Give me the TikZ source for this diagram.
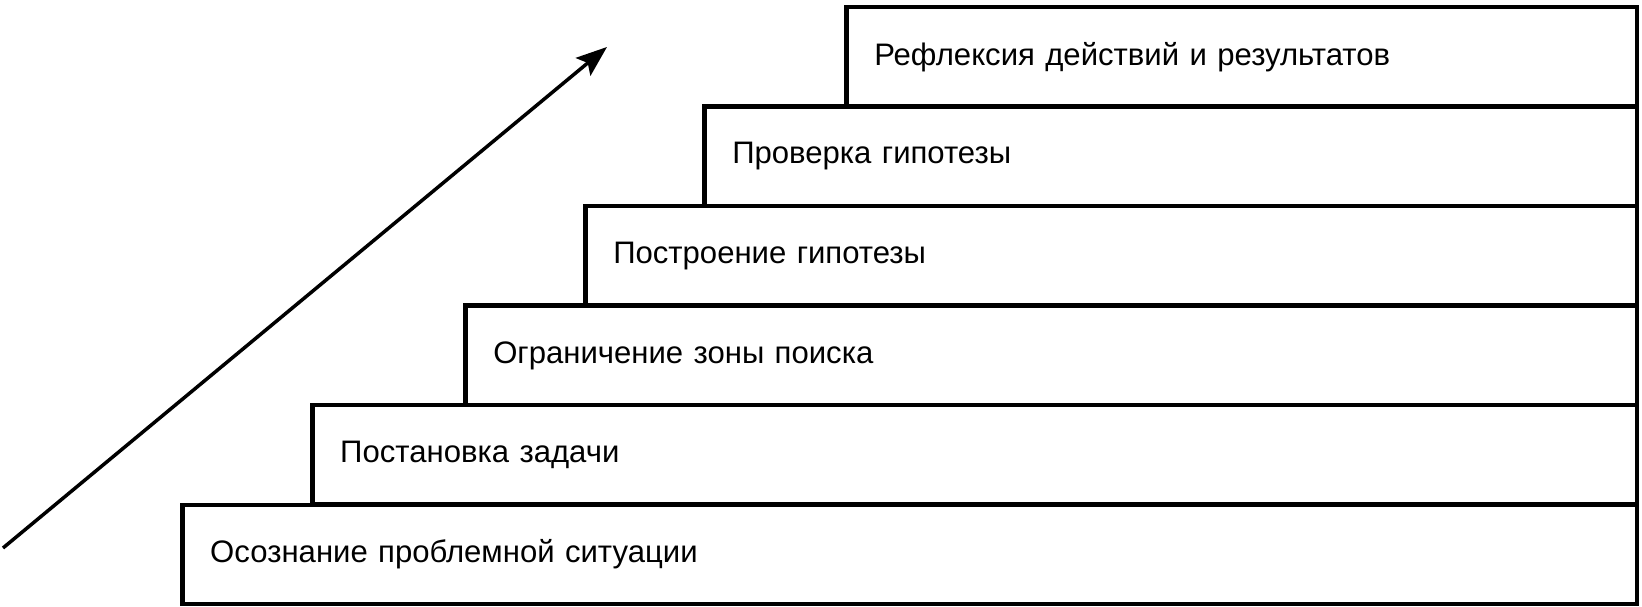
\documentclass[tikz,border=0pt]{standalone}
\usepackage{fontspec}
\setmainfont{Liberation Sans}
\usetikzlibrary{arrows.meta}
\begin{document}
\begin{tikzpicture}[x=0.02cm,y=-0.02cm,
  stepbox/.style={draw, line width=0.09cm, anchor=north west, inner xsep=0.56cm,
    minimum height=1.99cm, align=left, font=\fontsize{17.7}{20}\selectfont},
  uparrow/.style={line width=0.07cm, -{Stealth[length=0.62cm,width=0.46cm,inset=0.12cm]}}]
\useasboundingbox (0,0) rectangle (1642,607);
\node[stepbox, text width=29.1cm-1.12cm, minimum width=29.1cm] (s1) at (180,502.5) {Осознание проблемной ситуации};
\node[stepbox, text width=26.5cm-1.12cm, minimum width=26.5cm] (s2) at (310,403) {Постановка задачи};
\node[stepbox, text width=23.44cm-1.12cm, minimum width=23.44cm] (s3) at (463,303.5) {Ограничение зоны поиска};
\node[stepbox, text width=21.04cm-1.12cm, minimum width=21.04cm] (s4) at (583,204) {Построение гипотезы};
\node[stepbox, text width=18.66cm-1.12cm, minimum width=18.66cm] (s5) at (702,104.5) {Проверка гипотезы};
\node[stepbox, text width=15.82cm-1.12cm, minimum width=15.82cm] (s6) at (844,5) {Рефлексия действий и результатов};
\coordinate (arrS) at (3,548);
\coordinate (arrE) at (607,47);
\draw[uparrow] (arrS) -- (arrE);
\end{tikzpicture}
\end{document}
